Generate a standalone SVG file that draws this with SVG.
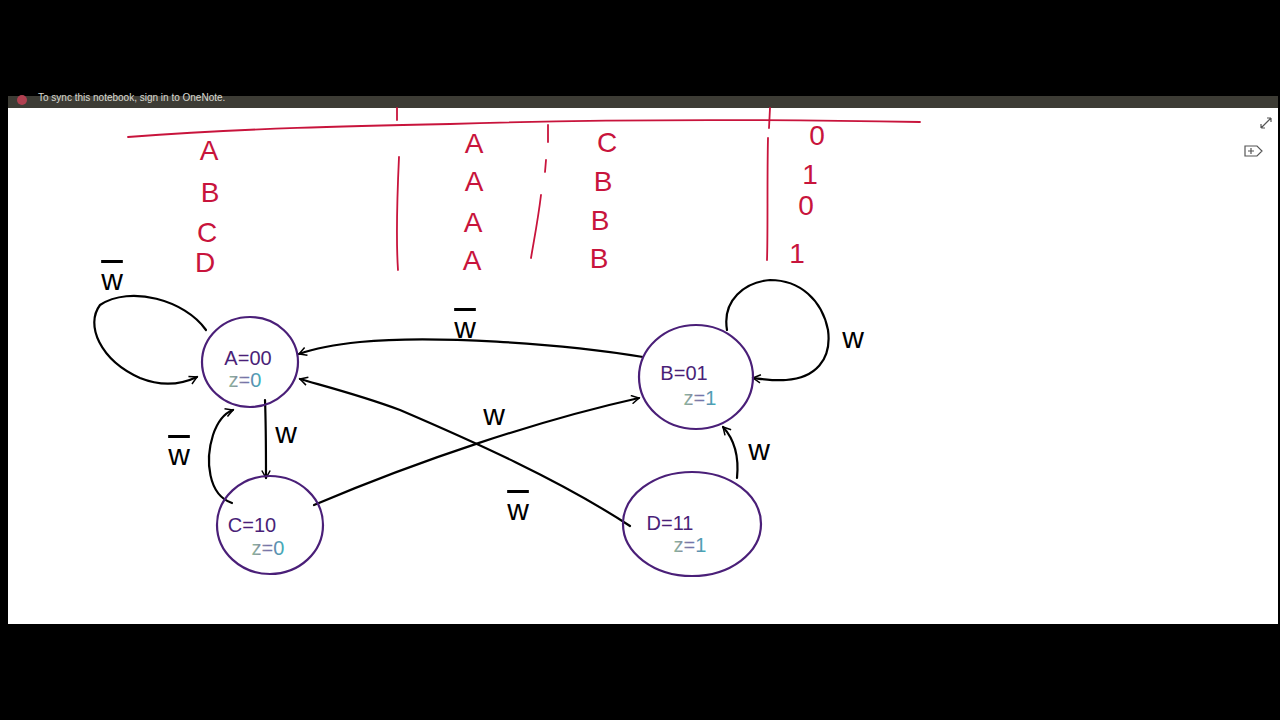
<svg xmlns="http://www.w3.org/2000/svg" width="1280" height="720" viewBox="0 0 1280 720">
<defs>
<style>
.tbl{font-family:"Liberation Sans",Arial,sans-serif;font-size:28px;fill:#c8143c;text-anchor:middle}
.rl{stroke:#c8143c;stroke-width:1.8;fill:none;stroke-linecap:round}
.st{fill:none;stroke:#4a1f78;stroke-width:2.2}
.nt{font-family:"Liberation Sans",Arial,sans-serif;font-size:20px;fill:#4a1f78;text-anchor:middle}
.zt{font-family:"Liberation Sans",Arial,sans-serif;font-size:20px;text-anchor:middle}
.ed{fill:none;stroke:#000;stroke-width:2.2;stroke-linecap:round}
.lb{font-family:"Liberation Sans",Arial,sans-serif;font-size:30px;fill:#000;text-anchor:middle}
.ob{text-decoration:overline}
</style>
<linearGradient id="zg" x1="0" x2="1" y1="0" y2="0">
<stop offset="0" stop-color="#8fb89a"/>
<stop offset="0.5" stop-color="#7a6fa8"/>
<stop offset="1" stop-color="#3fb0b8"/>
</linearGradient>
<marker id="ah" viewBox="0 0 12 12" refX="10" refY="6" markerWidth="10" markerHeight="10" markerUnits="userSpaceOnUse" orient="auto">
<path d="M1,1 L10,6 L1,11" fill="none" stroke="#000" stroke-width="1.8"/>
</marker>
</defs>
<rect width="1280" height="720" fill="#000"/>
<rect x="8" y="96" width="1270" height="12" fill="#3d3c35"/>
<text x="38" y="101" font-family="Liberation Sans,Arial,sans-serif" font-size="10" fill="#d8d8d0">To sync this notebook, sign in to OneNote.</text>
<circle cx="22" cy="100" r="5" fill="#b04050"/>
<rect x="8" y="108" width="1270" height="516" fill="#fff"/>
<g id="icons" stroke="#555" stroke-width="1.2" fill="none">
<path d="M1261,128 L1271,118 M1261,128 L1261,124 M1261,128 L1265,128 M1271,118 L1267,118 M1271,118 L1271,122"/>
<path d="M1245,146 L1257,146 L1262,151 L1257,156 L1245,156 Z M1248,151 L1254,151 M1251,148 L1251,154"/>
</g>
<g id="table">
<path class="rl" d="M128,137 C250,128 350,126 450,124 C600,119 750,119 920,122"/>
<path class="rl" d="M397,108 L397,120 M399,157 C397,200 396,240 398,270 M548,125 L548,142 M546,160 L545,172 M541,195 C538,220 534,240 531,258 M770,108 L769,128 M768,138 C767,180 768,230 767,260"/>
<text class="tbl" x="209" y="160">A</text>
<text class="tbl" x="210" y="202">B</text>
<text class="tbl" x="207" y="242">C</text>
<text class="tbl" x="205" y="272">D</text>
<text class="tbl" x="474" y="153">A</text>
<text class="tbl" x="474" y="191">A</text>
<text class="tbl" x="473" y="232">A</text>
<text class="tbl" x="472" y="270">A</text>
<text class="tbl" x="607" y="152">C</text>
<text class="tbl" x="603" y="191">B</text>
<text class="tbl" x="600" y="230">B</text>
<text class="tbl" x="599" y="268">B</text>
<text class="tbl" x="817" y="145" font-size="22">0</text>
<text class="tbl" x="810" y="184" font-size="22">1</text>
<text class="tbl" x="806" y="215" font-size="18">0</text>
<text class="tbl" x="797" y="263" font-size="22">1</text>
</g>
<g id="connectors">
<path class="ed" d="M206,330 C185,300 130,285 100,305 C85,325 100,360 140,378 C160,386 180,385 197,377" marker-end="url(#ah)"/>
<path class="ed" d="M643,357 C560,343 430,335 360,342 C330,345 310,350 299,354" marker-end="url(#ah)"/>
<path class="ed" d="M265,400 C266,425 266,450 266,478" marker-end="url(#ah)"/>
<path class="ed" d="M232,503 C208,495 205,460 213,435 C218,420 225,413 233,410" marker-end="url(#ah)"/>
<path class="ed" d="M314,505 C420,460 540,420 639,398" marker-end="url(#ah)"/>
<path class="ed" d="M630,526 C560,480 470,440 400,410 C360,395 320,385 300,379" marker-end="url(#ah)"/>
<path class="ed" d="M727,330 C722,300 745,282 770,280 C800,280 822,300 828,330 C832,360 815,378 786,380 C775,381 762,379 753,378" marker-end="url(#ah)"/>
<path class="ed" d="M737,478 C739,458 735,440 723,427" marker-end="url(#ah)"/>
</g>
<g id="labels">
<text class="lb ob" x="112" y="290">w</text>
<text class="lb ob" x="465" y="338">w</text>
<text class="lb" x="286" y="443">w</text>
<text class="lb ob" x="179" y="465">w</text>
<text class="lb" x="494" y="425">w</text>
<text class="lb ob" x="518" y="520">w</text>
<text class="lb" x="853" y="348">w</text>
<text class="lb" x="759" y="460">w</text>
</g>
<g id="A">
<ellipse class="st" cx="250" cy="362" rx="48" ry="45"/>
<text class="nt" x="248" y="365">A=00</text>
<text class="zt" x="245" y="387" fill="url(#zg)">z=0</text>
</g>
<g id="B">
<ellipse class="st" cx="696" cy="377" rx="57" ry="52"/>
<text class="nt" x="684" y="380">B=01</text>
<text class="zt" x="700" y="405" fill="url(#zg)">z=1</text>
</g>
<g id="C">
<ellipse class="st" cx="270" cy="525" rx="53" ry="49"/>
<text class="nt" x="252" y="532">C=10</text>
<text class="zt" x="268" y="555" fill="url(#zg)">z=0</text>
</g>
<g id="D">
<ellipse class="st" cx="692" cy="524" rx="69" ry="52"/>
<text class="nt" x="670" y="530">D=11</text>
<text class="zt" x="690" y="552" fill="url(#zg)">z=1</text>
</g>
</svg>
